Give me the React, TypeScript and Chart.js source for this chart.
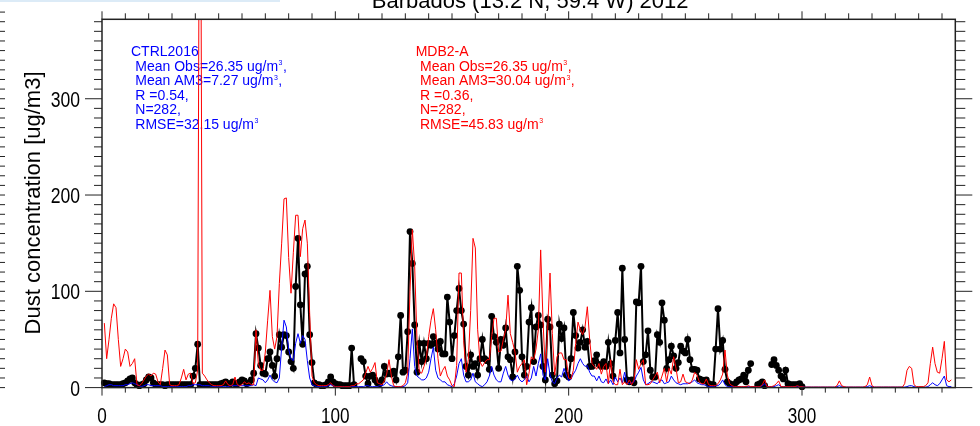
import React, { useEffect, useRef } from "react";
import { Chart, registerables } from "chart.js";

Chart.register(...registerables);

// ---- labels & axis settings ----
const TITLE = "Barbados (13.2 N, 59.4 W) 2012";
const Y_TITLE = "Dust concentration [ug/m3]";
const xTicks = [0, 100, 200, 300];
const yTicks = [0, 100, 200, 300];
const X_MAX = 365.7;
const Y_MAX = 382.5;

// ---- daily dust concentration, day-of-year 1..N ----
// Observations (days 1-300), null = no measurement
const obsDust: (number | null)[] = [
  5, 4, 4, 3, 3, 3, 3, 3, 4, 5,
  7, 9, 10, 5, 3, 2, 3, 4, 8, 11,
  10, 5, 3, 3, 3, 3, 2, 3, 3, 3,
  3, 3, 3, 3, 3, 3, 3, 3, 12, 20,
  45, 3, 3, 3, 3, 3, 3, 3, 3, 3,
  4, 5, 6, 4, 4, 6, 4, 4, 6, 8,
  7, 4, 5, 8, 15, 56, 41, 23, 15, 14,
  30, 37, 23, 12, 30, 55, 42, 55, 54, 37,
  27, 20, 105, 155, 86, 45, 118, 126, 55, 26,
  5, 3, 3, 2, 2, 3, 6, 11, 6, 4,
  3, 3, 2, 2, 2, 2, 41, 3, null, null,
  30, 27, 12, 4, 12, 13, 8, 5, 4, 8,
  22, 14, 15, 14, 17, 8, 32, 75, 16, 18,
  58, 162, 129, 65, 16, 46, 27, 46, 30, 46,
  44, 53, 46, 40, 48, 35, 35, 94, 68, 30,
  54, 80, 103, 80, 66, 22, 13, 34, 22, 25,
  13, 30, 50, 30, 28, 19, 74, 53, 47, 20,
  50, 44, 62, 32, 29, 11, 37, 126, 101, 32,
  13, 22, 68, 83, 27, 63, 75, 65, 22, 8,
  71, 63, 13, 4, 7, 66, 51, 62, 13, 11,
  30, 78, 54, 41, 47, 60, 42, 48, 22, 22,
  28, 34, 24, 22, 27, 22, 47, 25, 12, 49,
  78, 36, 124, 50, 8, 6, 8, 5, 89, 88,
  126, 27, 34, 59, 18, 11, 11, 55, 47, 88,
  70, 20, 29, 43, 33, 20, 26, 43, 38, 36,
  50, 29, 19, 19, 18, 9, 8, 7, 8, 4,
  3, 3, 40, 82, 40, 49, 19, 6, 4, 3,
  3, 6, 8, 9, 13, 6, 18, 25, null, null,
  3, 4, 6, 2, null, null, 24, 29, 23, 18,
  12, 9, 18, 4, 3, 3, 3, 3, 4, 1,
];

// AM3 CTRL2016 run (days 1-364)
const ctrl2016Dust: number[] = [
  1, 2, 3, 3, 2, 2, 2, 2, 2, 3,
  3, 4, 5, 4, 3, 2, 1, 2, 3, 3,
  2, 2, 2, 2, 2, 1, 1, 1, 1, 1,
  1, 1, 1, 1, 1, 1, 2, 2, 3, 3,
  3, 3, 2, 2, 2, 2, 1, 1, 1, 1,
  1, 1, 1, 1, 2, 2, 2, 2, 2, 2,
  2, 2, 2, 2, 3, 2, 10, 9, 8, 5,
  8, 13, 8, 6, 5, 10, 42, 70, 63, 40,
  30, 28, 46, 56, 46, 54, 50, 28, 10, 3,
  2, 1, 1, 1, 1, 1, 2, 3, 2, 1,
  1, 1, 1, 1, 1, 1, 1, 1, 1, 1,
  1, 1, 2, 2, 1, 1, 1, 1, 2, 2,
  3, 6, 3, 2, 1, 1, 1, 1, 1, 2,
  5, 30, 61, 22, 12, 10, 8, 8, 10, 16,
  30, 42, 18, 10, 8, 6, 6, 3, 2, 1,
  4, 12, 25, 30, 13, 6, 6, 8, 15, 6,
  4, 2, 1, 3, 6, 12, 22, 13, 8, 6,
  6, 15, 22, 13, 8, 7, 9, 13, 8, 6,
  8, 12, 6, 10, 22, 12, 25, 35, 13, 8,
  30, 13, 6, 4, 10, 13, 11, 20, 13, 7,
  9, 14, 18, 25, 30, 25, 22, 23, 16, 12,
  12, 7, 12, 6, 5, 9, 4, 8, 3, 11,
  6, 10, 5, 16, 5, 4, 5, 6, 12, 16,
  21, 8, 3, 4, 6, 6, 5, 4, 7, 8,
  4, 5, 6, 12, 8, 5, 4, 3, 4, 4,
  4, 5, 6, 8, 5, 4, 3, 3, 2, 1,
  1, 1, 2, 2, 4, 8, 3, 1, 1, 1,
  1, 1, 1, 1, 1, 1, 1, 1, 1, 1,
  1, 1, 2, 4, 1, 1, 1, 1, 2, 3,
  1, 1, 1, 1, 1, 1, 1, 1, 1, 1,
  0.5, 0.5, 0.5, 0.5, 0.5, 0.5, 0.5, 0.5, 0.5, 0.5,
  0.5, 0.5, 0.5, 0.5, 1, 2, 1, 0.5, 0.5, 0.5,
  0.5, 0.5, 0.5, 0.5, 0.5, 0.5, 0.5, 1, 2, 1,
  0.5, 0.5, 0.5, 0.5, 0.5, 0.5, 0.5, 0.5, 0.5, 0.5,
  0.5, 0.5, 0.5, 0.5, 1, 2, 2, 1, 0.5, 0.5,
  0.5, 0.5, 0.5, 1, 3, 5, 3, 2, 4, 8,
  12, 2, 1, 1,
];

// AM3 MDB2-A run (days 1-364)
const mdb2aDust: number[] = [
  67, 30, 50, 72, 87, 83, 50, 22, 30, 40,
  37, 22, 25, 30, 3, 2, 4, 8, 12, 14,
  12, 15, 14, 6, 3, 20, 39, 34, 3, 2,
  2, 2, 3, 10, 19, 8, 14, 15, 4, 5,
  18, 750, 15, 12, 8, 5, 3, 2, 2, 2,
  2, 3, 7, 3, 2, 3, 11, 3, 2, 3,
  6, 4, 5, 3, 3, 60, 25, 18, 18, 37,
  70, 101, 53, 40, 53, 108, 150, 196, 197, 135,
  98, 140, 179, 179, 136, 165, 174, 150, 77, 12,
  5, 3, 2, 2, 2, 2, 3, 5, 2, 1,
  1, 1, 1, 1, 1, 1, 2, 2, 4, 4,
  6, 8, 15, 22, 16, 20, 26, 5, 4, 3,
  7, 14, 29, 12, 2, 1, 1, 1, 2, 5,
  15, 100, 164, 126, 49, 16, 15, 22, 30, 53,
  70, 82, 60, 30, 12, 18, 22, 12, 8, 2,
  1, 23, 119, 119, 49, 16, 29, 80, 155, 145,
  60, 27, 22, 26, 29, 29, 53, 72, 72, 37,
  38, 50, 60, 96, 56, 47, 37, 16, 22, 25,
  29, 3, 15, 32, 29, 40, 60, 143, 70, 16,
  60, 119, 56, 13, 32, 36, 36, 29, 29, 10,
  9, 18, 46, 68, 60, 55, 63, 84, 50, 25,
  22, 19, 25, 14, 22, 25, 4, 29, 6, 3,
  3, 19, 3, 6, 3, 8, 3, 8, 29, 19,
  25, 29, 3, 3, 4, 8, 12, 16, 5, 12,
  20, 6, 20, 14, 32, 20, 5, 6, 14, 6,
  5, 4, 8, 16, 13, 6, 4, 4, 9, 3,
  2, 2, 2, 4, 8, 14, 39, 13, 4, 2,
  1, 1, 1, 1, 1, 1, 2, 1, 1, 1,
  1, 1, 3, 8, 1, 1, 1, 2, 4, 7,
  1, 1, 1, 1, 1, 1, 1, 2, 1, 1,
  0.5, 0.5, 0.5, 0.5, 0.5, 0.5, 0.5, 0.5, 0.5, 0.5,
  0.5, 0.5, 0.5, 0.5, 2, 7, 2, 1, 0.5, 0.5,
  0.5, 0.5, 0.5, 0.5, 0.5, 0.5, 1, 3, 11, 2,
  0.5, 0.5, 0.5, 0.5, 0.5, 0.5, 0.5, 0.5, 0.5, 0.5,
  0.5, 0.5, 0.5, 4, 18, 22, 20, 3, 1, 1,
  1, 1, 2, 5, 25, 42, 25, 16, 15, 30,
  48, 8, 6, 8,
];

// ---- statistics text blocks: [text, superscript, trailing] ----
const ctrlHeader = "CTRL2016";
const ctrlStats: [string, string, string][] = [
  ["Mean Obs=26.35 ug/m", "3", ","],
  ["Mean AM3=7.27 ug/m", "3", ","],
  ["R =0.54,", "", ""],
  ["N=282,", "", ""],
  ["RMSE=32.15 ug/m", "3", ""],
];
const mdbHeader = "MDB2-A";
const mdbStats: [string, string, string][] = [
  ["Mean Obs=26.35 ug/m", "3", ","],
  ["Mean AM3=30.04 ug/m", "3", ","],
  ["R =0.36,", "", ""],
  ["N=282,", "", ""],
  ["RMSE=45.83 ug/m", "3", ""],
];

const FONT = '"Liberation Sans", Arial, Helvetica, sans-serif';

const toPoints = (arr: (number | null)[]) =>
  arr.map((v, i) => ({ x: i + 1, y: v }));

function drawStats(
  ctx: CanvasRenderingContext2D,
  x: number,
  y: number,
  color: string,
  header: string,
  lines: [string, string, string][]
) {
  ctx.save();
  ctx.fillStyle = color;
  ctx.textAlign = "left";
  ctx.textBaseline = "alphabetic";
  ctx.font = `14px ${FONT}`;
  ctx.fillText(header, x, y);
  lines.forEach(([main, sup, tail], i) => {
    const bx = x + 4.3;
    const by = y + 15 + i * 14.5;
    ctx.font = `14px ${FONT}`;
    ctx.fillText(main, bx, by);
    let cx = bx + ctx.measureText(main).width + 0.5;
    if (sup) {
      ctx.font = `7px ${FONT}`;
      ctx.fillText(sup, cx, by - 5.5);
      cx += ctx.measureText(sup).width + 0.5;
    }
    if (tail) {
      ctx.font = `14px ${FONT}`;
      ctx.fillText(tail, cx, by);
    }
  });
  ctx.restore();
}

function condensedText(
  ctx: CanvasRenderingContext2D,
  text: string,
  x: number,
  y: number,
  align: CanvasTextAlign,
  sx: number
) {
  ctx.save();
  ctx.translate(x, y);
  ctx.scale(sx, 1);
  ctx.textAlign = align;
  ctx.fillText(text, 0, 0);
  ctx.restore();
}

const framePlugin = {
  id: "idlFrame",
  beforeDatasetsDraw(chart: any) {
    const ctx: CanvasRenderingContext2D = chart.ctx;
    drawStats(ctx, 131, 55.5, "#0000ff", ctrlHeader, ctrlStats);
    drawStats(ctx, 415.7, 55.5, "#ff0000", mdbHeader, mdbStats);
  },
  afterDatasetsDraw(chart: any) {
    const ctx: CanvasRenderingContext2D = chart.ctx;
    const xs = chart.scales.x;
    const ys = chart.scales.y;
    const { left, right, top, bottom } = chart.chartArea;

    ctx.save();
    // faint strip along the top edge
    ctx.fillStyle = "#dcebf7";
    ctx.fillRect(0, 0, 280, 2);

    // plot frame
    ctx.strokeStyle = "#222";
    ctx.lineWidth = 1.5;
    ctx.strokeRect(left, top, right - left, bottom - top);

    // ticks
    ctx.lineWidth = 1;
    ctx.beginPath();
    for (let v = 0; v <= Y_MAX; v += 10) {
      const y = ys.getPixelForValue(v);
      const major = v % 100 === 0;
      ctx.moveTo(left - (major ? 17 : 8), y);
      ctx.lineTo(left, y);
      ctx.moveTo(right, y);
      ctx.lineTo(right + (major ? 17 : 10), y);
    }
    for (let v = 0; v <= X_MAX; v += 10) {
      const x = xs.getPixelForValue(v);
      const major = v % 100 === 0;
      ctx.moveTo(x, bottom);
      ctx.lineTo(x, bottom + (major ? 8 : 5));
      ctx.moveTo(x, top);
      ctx.lineTo(x, top - (major ? 8 : 6));
    }
    // tick marks of the neighbouring panel along the left edge
    for (let v = 0; v <= 390; v += 10) {
      const y = ys.getPixelForValue(v);
      ctx.moveTo(0, y);
      ctx.lineTo(5, y);
    }
    ctx.stroke();

    // tick labels
    ctx.fillStyle = "#000";
    ctx.font = `22px ${FONT}`;
    ctx.textBaseline = "alphabetic";
    yTicks.forEach((v) => {
      condensedText(ctx, String(v), 80, ys.getPixelForValue(v) + 7.9, "right", 0.8);
    });
    xTicks.forEach((v) => {
      condensedText(ctx, String(v), xs.getPixelForValue(v), 423, "center", 0.78);
    });

    // title (partly above the canvas top)
    ctx.font = `22px ${FONT}`;
    ctx.textAlign = "center";
    ctx.fillText(TITLE, (left + right) / 2 + 1.5, 7.5);

    // y-axis title
    ctx.save();
    ctx.translate(40, (top + bottom) / 2 - 0.5);
    ctx.rotate(-Math.PI / 2);
    ctx.textAlign = "center";
    ctx.font = `22px ${FONT}`;
    ctx.fillText(Y_TITLE, 0, 0);
    ctx.restore();

    ctx.restore();
  },
};

export default function App() {
  const canvasRef = useRef<HTMLCanvasElement | null>(null);

  useEffect(() => {
    if (!canvasRef.current) return;
    const chart = new Chart(canvasRef.current, {
      type: "line",
      data: {
        datasets: [
          {
            label: "MDB2-A",
            data: toPoints(mdb2aDust),
            borderColor: "#ff0000",
            borderWidth: 1,
            pointRadius: 0,
            tension: 0,
          },
          {
            label: "CTRL2016",
            data: toPoints(ctrl2016Dust),
            borderColor: "#0000ff",
            borderWidth: 1,
            pointRadius: 0,
            tension: 0,
          },
          {
            label: "Obs",
            data: toPoints(obsDust),
            borderColor: "#000000",
            borderWidth: 2,
            pointRadius: 3.4,
            pointBackgroundColor: "#000000",
            pointBorderWidth: 0,
            spanGaps: false,
            tension: 0,
            clip: { left: 5, right: 5, top: 0, bottom: 5 },
          },
        ],
      } as any,
      options: {
        responsive: false,
        animation: false,
        devicePixelRatio: 1,
        events: [],
        layout: {
          padding: { left: 102, right: 24.7, top: 19.3, bottom: 38.4 },
        },
        scales: {
          x: { type: "linear", min: 0, max: X_MAX, display: false },
          y: { type: "linear", min: 0, max: Y_MAX, display: false },
        },
        plugins: {
          legend: { display: false },
          title: { display: false },
          tooltip: { enabled: false },
        },
      } as any,
      plugins: [framePlugin],
    });
    return () => chart.destroy();
  }, []);

  return (
    <div
      style={{
        position: "fixed",
        left: 0,
        top: 0,
        width: 980,
        height: 426,
        background: "#ffffff",
      }}
    >
      <canvas ref={canvasRef} width={980} height={426} style={{ display: "block" }} />
    </div>
  );
}
